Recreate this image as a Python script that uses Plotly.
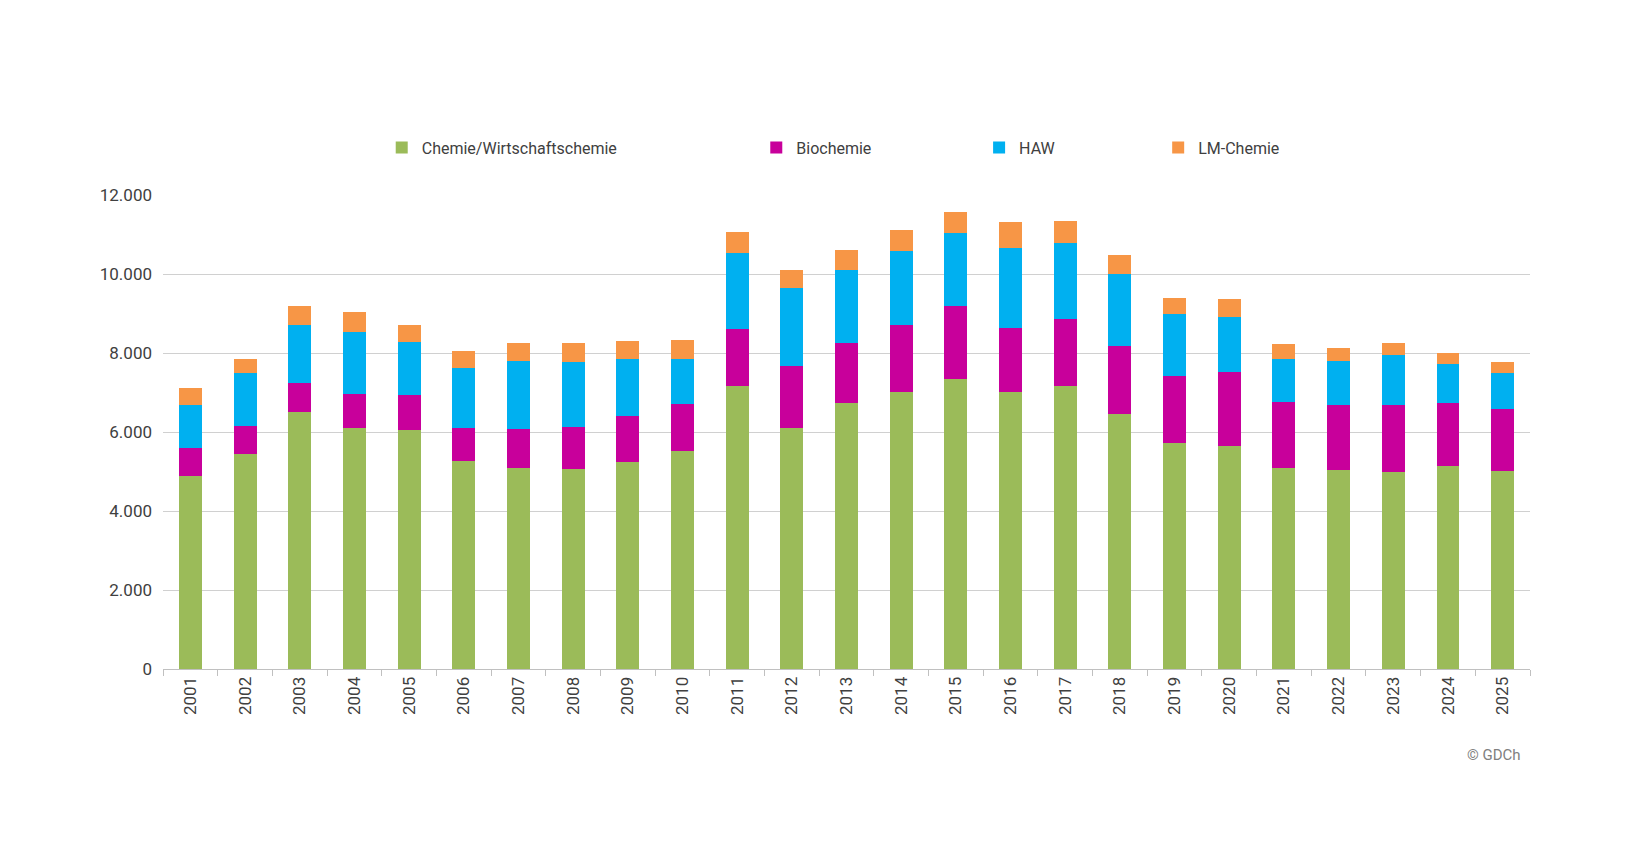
import plotly.graph_objects as go

years = [str(y) for y in range(2001, 2026)]

# cumulative tops, converted to segment values
chemie = [4880, 5440, 6500, 6110, 6050, 5260, 5100, 5070, 5230, 5520, 7170, 6110, 6740,
          7010, 7330, 7010, 7170, 6450, 5730, 5650, 5100, 5040, 4990, 5150, 5020]
biochemie = [720, 720, 750, 850, 880, 850, 980, 1060, 1170, 1200, 1430, 1560, 1520,
             1700, 1860, 1620, 1700, 1730, 1700, 1860, 1670, 1650, 1700, 1590, 1560]
haw = [1090, 1330, 1460, 1560, 1350, 1510, 1720, 1650, 1460, 1140, 1940, 1970, 1830,
       1880, 1850, 2040, 1910, 1830, 1570, 1410, 1090, 1110, 1270, 980, 910]
lm_chemie = [420, 370, 480, 530, 430, 420, 460, 480, 450, 480, 530, 470, 530,
             530, 530, 640, 560, 480, 400, 450, 370, 320, 300, 270, 290]

series = [
    ("Chemie/Wirtschaftschemie", chemie, "#9BBB59"),
    ("Biochemie", biochemie, "#C8009B"),
    ("HAW", haw, "#00B0F0"),
    ("LM-Chemie", lm_chemie, "#F79646"),
]
legend_x = [0.160, 0.434, 0.597, 0.728]

fig = go.Figure()
layout_legends = {}
for i, (name, vals, color) in enumerate(series):
    key = "legend" if i == 0 else f"legend{i + 1}"
    fig.add_trace(go.Bar(x=years, y=vals, name=name, marker_color=color,
                         marker_line_width=0, legend=key))
    layout_legends[key] = dict(x=legend_x[i], xanchor="left", y=1.10, yanchor="middle",
                               font=dict(size=16), bgcolor="rgba(0,0,0,0)",
                               itemwidth=30)

fig.update_layout(
    barmode="stack",
    bargap=0.58,
    width=1646, height=846,
    margin=dict(l=155, r=124, t=187, b=185),
    paper_bgcolor="white", plot_bgcolor="white",
    separators=",.",
    font=dict(family="Roboto", size=17, color="#404040"),
    showlegend=True,
    **layout_legends,
)
fig.update_yaxes(range=[0, 12000], dtick=2000, tickformat=",.0f",
                 gridcolor="#D0D0D0", gridwidth=1, zeroline=False,
                 ticks="", ticklabelstandoff=10)
fig.update_xaxes(tickangle=-90, showline=True, linecolor="#C0C0C0",
                 ticks="outside", tickcolor="#C0C0C0", ticklen=6,
                 tickson="boundaries")
fig.add_annotation(text="© GDCh", xref="paper", yref="paper", x=0.995, y=-0.205,
                   xanchor="right", showarrow=False,
                   font=dict(size=15, color="#808080"))

fig.write_html("out.html")
